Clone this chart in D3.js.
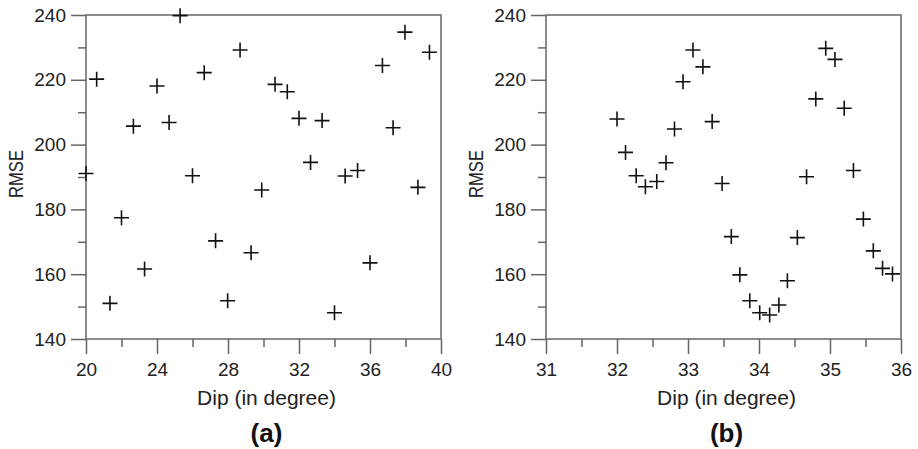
<!DOCTYPE html>
<html>
<head>
<meta charset="utf-8">
<script src="https://cdn.jsdelivr.net/npm/d3@7"></script>
<style>
  body { margin: 0; background: #fff; }
  svg { display: block; font-family: "Liberation Sans", Arial, sans-serif; }
  .tick text { font-size: 19px; fill: #222; }
  .axis-title { font-size: 21px; fill: #222; }
  .panel-label { font-size: 26px; font-weight: bold; fill: #111; }
</style>
</head>
<body>
<div id="chart"></div>
<script>
// panel (a): dip vs RMSE, coarse scan
const dipA  = [20.0, 20.6, 21.35, 22.0, 22.67, 23.3, 24.0, 24.68, 25.3, 26.0, 26.66, 27.3, 27.98, 28.68, 29.3,
               29.9, 30.65, 31.34, 32.0, 32.65, 33.3, 34.0, 34.6, 35.3, 36.0, 36.7, 37.3, 37.97, 38.7, 39.35];
const rmseA = [191.1, 220.2, 151.0, 177.4, 205.7, 161.6, 218.1, 206.8, 239.8, 190.4, 222.2, 170.3, 151.8, 229.2, 166.6,
               186.0, 218.6, 216.3, 208.1, 194.5, 207.4, 148.1, 190.3, 192.0, 163.5, 224.4, 205.2, 234.7, 186.8, 228.5];

// panel (b): dip vs RMSE, fine scan
const dipB  = [32.0, 32.12, 32.27, 32.4, 32.56, 32.69, 32.81, 32.93, 33.07, 33.21, 33.34, 33.48, 33.61, 33.73, 33.87,
               34.01, 34.15, 34.28, 34.4, 34.54, 34.67, 34.8, 34.94, 35.07, 35.2, 35.33, 35.47, 35.61, 35.74, 35.88];
const rmseB = [207.9, 197.6, 190.4, 187.0, 188.6, 194.4, 204.8, 219.4, 229.2, 224.0, 207.1, 188.0, 171.6, 159.8, 151.8,
               148.1, 147.4, 150.5, 158.0, 171.3, 190.1, 214.1, 229.7, 226.3, 211.2, 192.0, 177.0, 167.2, 161.8, 160.1];

const yTicks      = [140, 160, 180, 200, 220, 240];
const yMinorTicks = [150, 170, 190, 210, 230];
const xTicksA      = [20, 24, 28, 32, 36, 40];
const xMinorTicksA = [22, 26, 30, 34, 38];
const xTicksB      = [31, 32, 33, 34, 35, 36];
const xMinorTicksB = [31.5, 32.5, 33.5, 34.5, 35.5];

const width = 918, height = 449;
const plotW = 355, plotH = 324, plotTop = 15;
const crossSize = 15;

const svg = d3.select('#chart')
  .append('svg')
  .attr('width', width)
  .attr('height', height);

function drawPanel(left, dips, rmses, xDomain, xTicks, xMinor, label) {
  const g = svg.append('g').attr('transform', `translate(${left},${plotTop})`);

  const x = d3.scaleLinear().domain(xDomain).range([0, plotW]);
  const y = d3.scaleLinear().domain([140, 240]).range([plotH, 0]);

  // minor ticks first, no labels
  g.append('g')
    .attr('transform', `translate(0,${plotH})`)
    .call(d3.axisBottom(x).tickValues(xMinor).tickSize(8).tickFormat(''))
    .call(a => a.select('.domain').remove());
  g.append('g')
    .call(d3.axisLeft(y).tickValues(yMinorTicks).tickSize(8).tickFormat(''))
    .call(a => a.select('.domain').remove());

  // major ticks
  g.append('g')
    .attr('transform', `translate(0,${plotH})`)
    .call(d3.axisBottom(x).tickValues(xTicks).tickSize(15).tickPadding(9).tickFormat(d3.format('d')))
    .call(a => a.select('.domain').remove());
  g.append('g')
    .call(d3.axisLeft(y).tickValues(yTicks).tickSize(15).tickPadding(5))
    .call(a => a.select('.domain').remove());

  g.selectAll('.tick line').attr('stroke', '#666').attr('stroke-width', 1.5);

  // frame
  g.append('rect')
    .attr('width', plotW)
    .attr('height', plotH)
    .attr('fill', 'none')
    .attr('stroke', '#666')
    .attr('stroke-width', 1.5);

  // crosses
  const pts = dips.map((d, i) => ({ dip: d, rmse: rmses[i] }));
  const h = crossSize / 2;
  g.append('g')
    .selectAll('path')
    .data(pts)
    .enter()
    .append('path')
    .attr('d', d => {
      const cx = x(d.dip), cy = y(d.rmse);
      return `M${cx - h},${cy}H${cx + h}M${cx},${cy - h}V${cy + h}`;
    })
    .attr('stroke', '#111')
    .attr('stroke-width', 1.6)
    .attr('fill', 'none');

  // titles
  g.append('text')
    .attr('class', 'axis-title')
    .attr('text-anchor', 'middle')
    .attr('x', plotW / 2 + 3)
    .attr('y', 390)
    .text('Dip (in degree)');

  g.append('text')
    .attr('class', 'axis-title')
    .attr('text-anchor', 'middle')
    .attr('transform', `translate(${-63},${plotH / 2 - 3}) rotate(-90)`)
    .attr('textLength', 48)
    .attr('lengthAdjust', 'spacingAndGlyphs')
    .text('RMSE');

  g.append('text')
    .attr('class', 'panel-label')
    .attr('text-anchor', 'middle')
    .attr('x', plotW / 2 + 3)
    .attr('y', 427)
    .text(label);
}

drawPanel(86, dipA, rmseA, [20, 40], xTicksA, xMinorTicksA, '(a)');
drawPanel(546, dipB, rmseB, [31, 36], xTicksB, xMinorTicksB, '(b)');
</script>
</body>
</html>
